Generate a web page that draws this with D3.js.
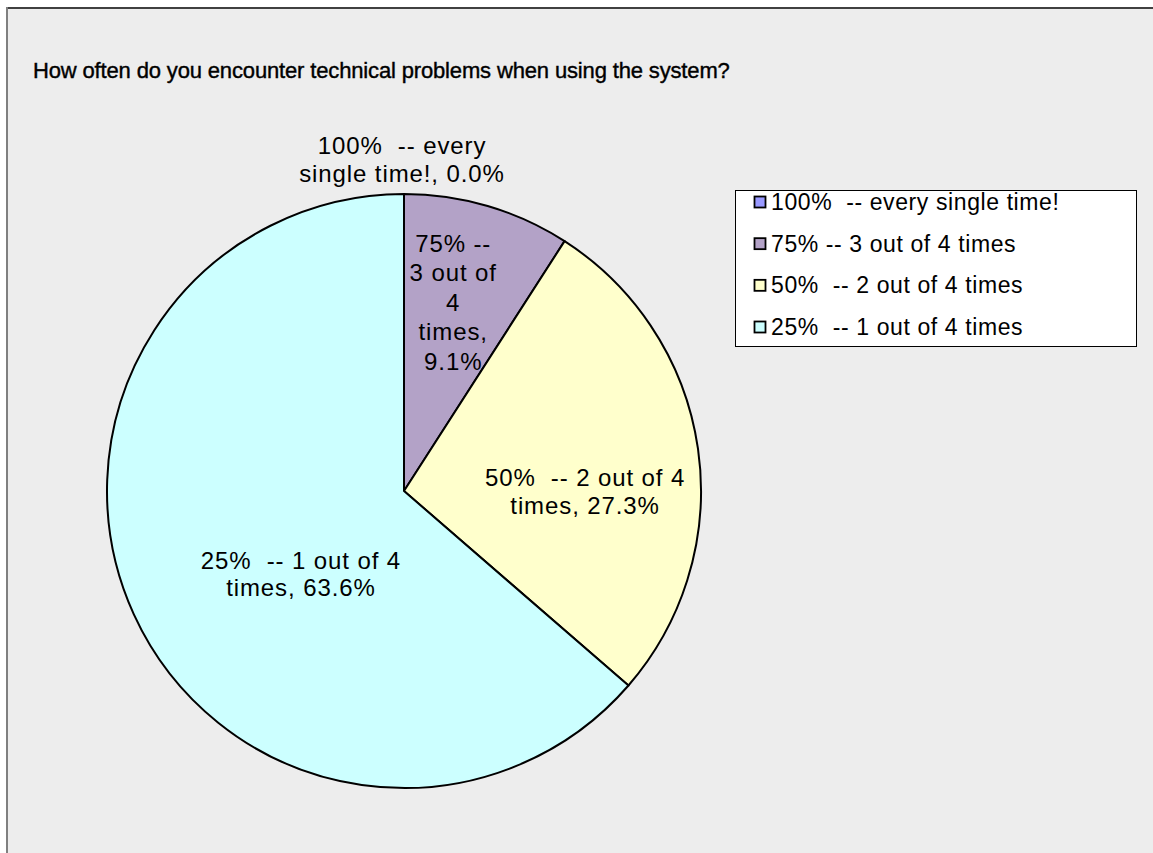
<!DOCTYPE html>
<html><head><meta charset="utf-8">
<script src="https://cdn.jsdelivr.net/npm/d3@7"></script>
<style>body{margin:0;background:#fff;}svg{display:block;font-family:"Liberation Sans",Arial,sans-serif;}text{white-space:pre;}</style>
</head><body>
<svg id="chart" width="1153" height="853"></svg>
<script>
const title = "How often do you encounter technical problems when using the system?";
const categories = ["100%  -- every single time!", "75% -- 3 out of 4 times", "50%  -- 2 out of 4 times", "25%  -- 1 out of 4 times"];
const values = [0, 1, 3, 7];
const percents = ["0.0%", "9.1%", "27.3%", "63.6%"];
const colors = ["#9999ff", "#b3a2c7", "#ffffcc", "#ccffff"];
const labelLines = [
  ["100%  -- every", "single time!, 0.0%"],
  ["75% --", "3 out of", "4", "times,", "9.1%"],
  ["50%  -- 2 out of 4", "times, 27.3%"],
  ["25%  -- 1 out of 4", "times, 63.6%"]
];

const svg = d3.select("#chart");
const W = 1153, H = 853;

svg.append("rect").attr("x", 8).attr("y", 8).attr("width", W).attr("height", H).attr("fill", "#ededed");
svg.append("line").attr("x1", 7).attr("x2", W).attr("y1", 8).attr("y2", 8).attr("stroke", "#404040").attr("stroke-width", 2);
svg.append("line").attr("x1", 7).attr("x2", 7).attr("y1", 7).attr("y2", H).attr("stroke", "#808080").attr("stroke-width", 2);

svg.append("text").attr("x", 33).attr("y", 78).attr("font-size", 22).attr("fill", "#000")
  .style("letter-spacing", "-0.15px").attr("stroke", "#000").attr("stroke-width", 0.4).text(title);

const cx = 404, cy = 491, R = 297;
const pie = d3.pie().sort(null).value(d => d)(values);
const arc = d3.arc().innerRadius(0).outerRadius(R);
const g = svg.append("g").attr("transform", `translate(${cx},${cy})`);
g.selectAll("path").data(pie).join("path")
  .attr("d", arc).attr("fill", (d, i) => colors[i])
  .attr("stroke", "#000").attr("stroke-width", 2).attr("stroke-linejoin", "round");

// label placement: centroid at a radius fraction, plus a nudge
const labelR = [1.121, 0.66, 0.616, 0.4];
const nudge = [[-2, 2], [-6, 0], [0, 27], [5, 34]];
const lineH = [28, 29.5, 28, 27];
pie.forEach((d, i) => {
  const a = (d.startAngle + d.endAngle) / 2;
  const r = R * labelR[i];
  const x = Math.sin(a) * r + nudge[i][0];
  const y = -Math.cos(a) * r + nudge[i][1];
  const lines = labelLines[i];
  const t = g.append("text").attr("text-anchor", "middle").attr("font-size", 24).attr("fill", "#000")
    .style("letter-spacing", "0.9px");
  lines.forEach((s, k) => {
    t.append("tspan").attr("x", x).attr("y", y + (k - (lines.length - 1) / 2) * lineH[i] + 8).text(s);
  });
});

// legend
const lg = svg.append("g");
lg.append("rect").attr("x", 735.5).attr("y", 190.5).attr("width", 401).attr("height", 156)
  .attr("fill", "#fff").attr("stroke", "#000").attr("stroke-width", 1);
const ly = d3.scalePoint().domain(categories).range([210, 335]);
categories.forEach((c, i) => {
  const y = ly(c);
  lg.append("rect").attr("x", 754.5).attr("y", y - 13.5).attr("width", 11).attr("height", 11)
    .attr("fill", colors[i]).attr("stroke", "#000").attr("stroke-width", 1.8);
  lg.append("text").attr("x", 771).attr("y", y).attr("font-size", 23).style("letter-spacing", "0.6px").text(c);
});
</script>
</body></html>
